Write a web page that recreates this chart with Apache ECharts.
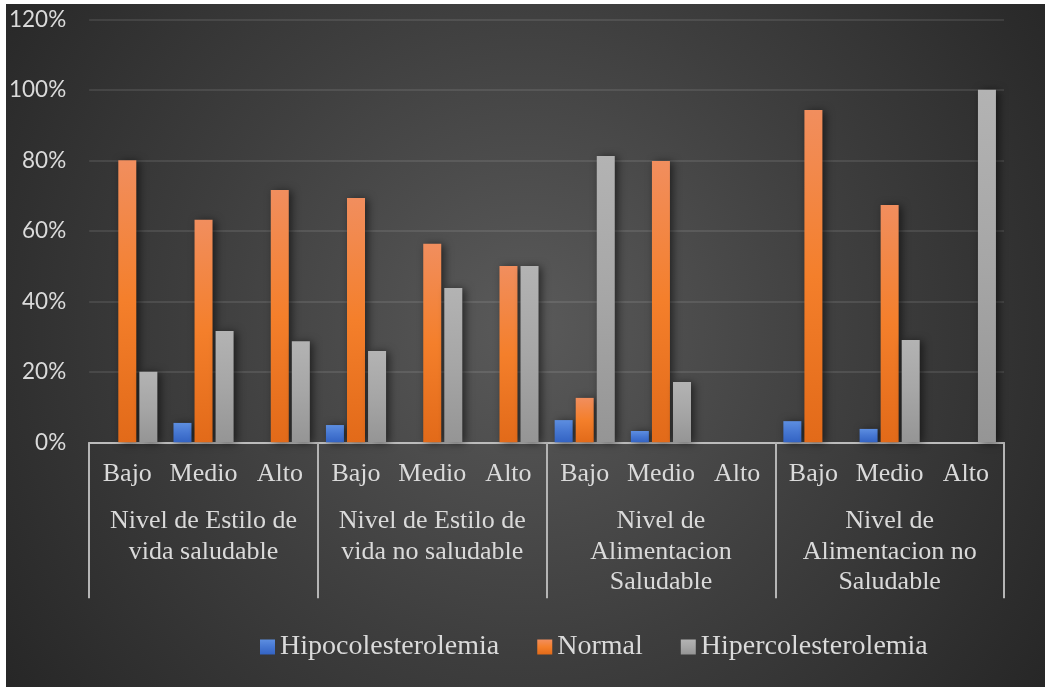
<!DOCTYPE html>
<html>
<head>
<meta charset="utf-8">
<title>Colesterolemia por nivel de estilo de vida y alimentación</title>
<script src="https://cdn.jsdelivr.net/npm/echarts@6/dist/echarts.min.js"></script>
<style>
  html, body { margin: 0; padding: 0; background: #ffffff; }
  #chart {
    position: absolute; left: 6px; top: 4px; width: 1039px; height: 683px;
    background: radial-gradient(circle at 50% 47%, #5a5a5a 0px, #3e3e3e 330px, #262626 640px);
  }
</style>
</head>
<body>
<div id="chart"></div>
<script>
// Sub-level (per bar group) and group categories
const levels = ['Bajo', 'Medio', 'Alto', 'Bajo', 'Medio', 'Alto', 'Bajo', 'Medio', 'Alto', 'Bajo', 'Medio', 'Alto'];
const groups = [
  'Nivel de Estilo de\nvida saludable',
  'Nivel de Estilo de\nvida no saludable',
  'Nivel de\nAlimentacion\nSaludable',
  'Nivel de\nAlimentacion no\nSaludable'
];
const seriesNames = ['Hipocolesterolemia', 'Normal', 'Hipercolesterolemia'];

// Shares per level (fractions of 1); null = no bar
const hipocolesterolemia = [null, 0.055, null, 0.049, null, null, 0.063, 0.032, null, 0.060, 0.038, null];
const normal = [0.80, 0.631, 0.716, 0.693, 0.563, 0.50, 0.126, 0.798, null, 0.943, 0.673, null];
const hipercolesterolemia = [0.20, 0.316, 0.287, 0.259, 0.438, 0.50, 0.812, 0.171, null, null, 0.290, 1.00];

const yTicks = { min: 0, max: 1.2, interval: 0.2 };

const textColor = '#dadada';
const serif = '"Liberation Serif", "Times New Roman", serif';

function vGrad(top, mid, bottom) {
  return {
    type: 'linear', x: 0, y: 0, x2: 0, y2: 1,
    colorStops: [
      { offset: 0, color: top },
      { offset: 0.5, color: mid },
      { offset: 1, color: bottom }
    ]
  };
}

const fills = [
  vGrad('#5d8ee0', '#4677d2', '#3363c3'),
  vGrad('#f18e5e', '#f47f2b', '#e26a19'),
  vGrad('#b3b3b3', '#a6a6a6', '#959595')
];

const values = [hipocolesterolemia, normal, hipercolesterolemia];

const chart = echarts.init(document.getElementById('chart'), null, { renderer: 'canvas' });

chart.setOption({
  animation: false,
  backgroundColor: 'transparent',
  grid: { left: 79.5, right: 41, top: 15.3, bottom: 244.7, containLabel: false },
  legend: {
    data: seriesNames,
    left: 249,
    top: 623,
    icon: 'rect',
    itemWidth: 15,
    itemHeight: 15,
    itemGap: 38,
    selectedMode: false,
    textStyle: { color: textColor, fontFamily: serif, fontSize: 28, lineHeight: 30 }
  },
  xAxis: [
    {
      type: 'category',
      data: levels,
      position: 'bottom',
      axisLine: { show: true, lineStyle: { color: '#bcbcbc', width: 2 } },
      axisTick: { show: false },
      splitLine: { show: false },
      axisLabel: {
        interval: 0, color: textColor, fontFamily: serif,
        fontSize: 26, lineHeight: 30, margin: 17
      }
    },
    {
      type: 'category',
      data: groups,
      position: 'bottom',
      offset: 0,
      axisLine: { show: false },
      axisTick: {
        show: true, interval: 0, length: 156,
        lineStyle: { color: '#b5b5b5', width: 2 }
      },
      splitLine: { show: false },
      axisLabel: {
        interval: 0, color: textColor, fontFamily: serif,
        fontSize: 26, lineHeight: 30.5, margin: 64
      }
    }
  ],
  yAxis: {
    type: 'value',
    min: yTicks.min,
    max: yTicks.max,
    interval: yTicks.interval,
    axisLine: { show: false },
    axisTick: { show: false },
    splitLine: { show: true, lineStyle: { color: 'rgba(255,255,255,0.13)', width: 1.6 } },
    axisLabel: {
      color: textColor,
      fontFamily: 'Lato, "Open Sans", sans-serif',
      fontSize: 22.5,
      margin: 23,
      formatter: v => Math.round(v * 100) + '%'
    }
  },
  series: seriesNames.map((name, i) => ({
    name,
    type: 'bar',
    xAxisIndex: 0,
    data: values[i],
    barWidth: 18,
    barGap: '17%',
    itemStyle: {
      color: fills[i],
      shadowBlur: 8,
      shadowColor: 'rgba(0,0,0,0.55)',
      shadowOffsetX: 3,
      shadowOffsetY: 1
    },
    emphasis: { disabled: true }
  }))
});
</script>
</body>
</html>
